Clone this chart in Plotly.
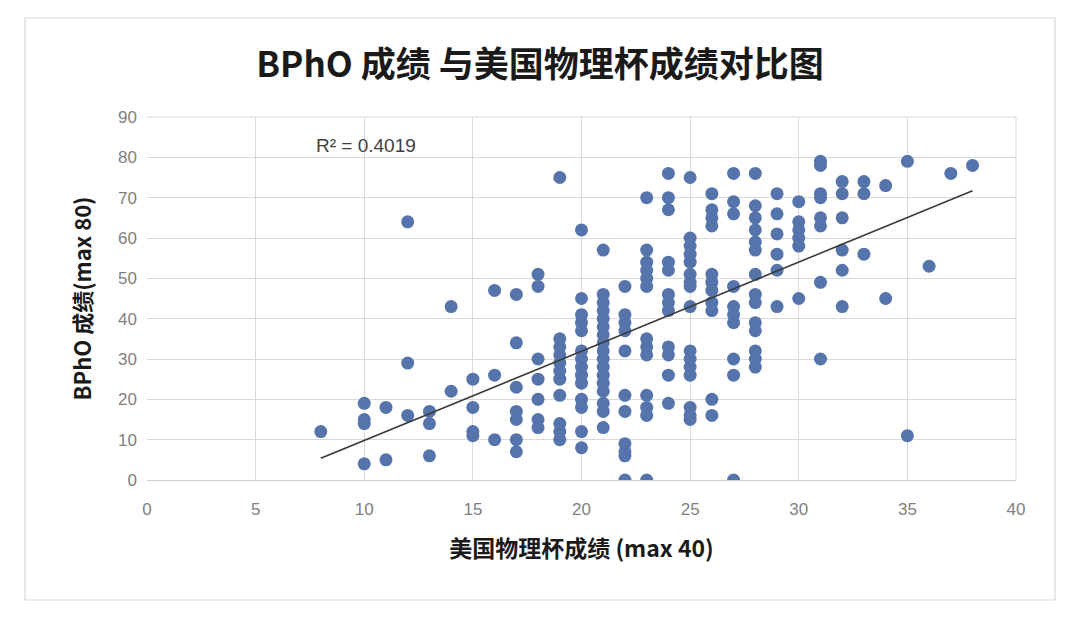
import numpy as np
import plotly.graph_objects as go

# 美国物理杯成绩 (x) and BPhO 成绩 (y), read column by column
pc_scores = (
    [8] * 1 + [10] * 4 + [11] * 2 + [12] * 3 + [13] * 3 + [14] * 2 + [15] * 4 + [16] * 3
    + [17] * 7 + [18] * 7 + [19] * 11 + [20] * 14 + [21] * 17 + [22] * 11 + [23] * 13
    + [24] * 12 + [25] * 16 + [26] * 11 + [27] * 10 + [28] * 14 + [29] * 6 + [30] * 6
    + [31] * 8 + [32] * 6 + [33] * 3 + [34] * 2 + [35] * 2 + [36] * 1 + [37] * 1 + [38] * 1
)
bpho_scores = (
    [12]
    + [19, 15, 14, 4]
    + [18, 5]
    + [64, 29, 16]
    + [17, 14, 6]
    + [43, 22]
    + [25, 18, 12, 11]
    + [47, 26, 10]
    + [46, 34, 23, 17, 15, 10, 7]
    + [51, 48, 30, 25, 20, 15, 13]
    + [75, 35, 33, 31, 29, 27, 25, 21, 14, 12, 10]
    + [62, 45, 41, 39, 37, 32, 30, 28, 26, 24, 20, 18, 12, 8]
    + [57, 46, 44, 42, 40, 38, 36, 34, 32, 30, 28, 26, 24, 22, 19, 17, 13]
    + [48, 41, 39, 37, 32, 21, 17, 9, 7, 6, 0]
    + [70, 57, 54, 52, 50, 48, 35, 33, 31, 21, 18, 16, 0]
    + [76, 70, 67, 54, 52, 46, 44, 42, 33, 31, 26, 19]
    + [75, 60, 58, 56, 54, 51, 49, 48, 43, 32, 30, 28, 26, 18, 16, 15]
    + [71, 67, 65, 63, 51, 49, 47, 44, 42, 20, 16]
    + [76, 69, 66, 48, 43, 41, 39, 30, 26, 0]
    + [76, 68, 65, 62, 59, 57, 51, 46, 44, 39, 37, 32, 30, 28]
    + [71, 66, 61, 56, 52, 43]
    + [69, 64, 62, 60, 58, 45]
    + [79, 78, 71, 70, 65, 63, 49, 30]
    + [74, 71, 65, 57, 52, 43]
    + [74, 71, 56]
    + [73, 45]
    + [79, 11]
    + [53]
    + [76]
    + [78]
)
x_ticks = [0, 5, 10, 15, 20, 25, 30, 35, 40]
y_ticks = [0, 10, 20, 30, 40, 50, 60, 70, 80, 90]
r2_label = "R² = 0.4019"

x = np.array(pc_scores, dtype=float)
y = np.array(bpho_scores, dtype=float)
slope, intercept = np.polyfit(x, y, 1)
x_line = np.array([x.min(), x.max()])
y_line = slope * x_line + intercept

fig = go.Figure()
fig.add_trace(go.Scatter(
    x=x, y=y, mode="markers",
    marker=dict(color="#5674ac", size=13, line=dict(width=0)),
    showlegend=False, hoverinfo="x+y",
))
fig.add_trace(go.Scatter(
    x=x_line, y=y_line, mode="lines",
    line=dict(color="#3a3a3a", width=1.6),
    showlegend=False, hoverinfo="skip",
))

cjk = "Noto Sans CJK SC"
tick_font = dict(family="Liberation Sans, Arial", size=17, color="#7f7f7f")

# page has an 8px body margin; figure sized to fit the 1080x623 window
W, H = 1072, 615
fig.update_layout(
    width=W, height=H,
    margin=dict(l=139, r=64, t=109, b=143),
    paper_bgcolor="white", plot_bgcolor="white",
    title=dict(
        text="<b>BPhO 成绩 与美国物理杯成绩对比图</b>",
        x=(540 - 8) / W, xref="container", xanchor="center",
        y=1 - (65 - 8) / H, yref="container", yanchor="middle",
        font=dict(family=cjk, size=35, color="#1a1a1a"),
    ),
    xaxis=dict(
        range=[0, 40], tickvals=x_ticks, showgrid=True, gridcolor="#d9d9d9", gridwidth=1,
        zeroline=False, showline=True, linecolor="#d0d0d0", mirror=False,
        tickfont=tick_font, ticks="", ticklabelstandoff=14,
        title=dict(text="<b>美国物理杯成绩 (max 40)</b>",
                   font=dict(family=cjk, size=23, color="#1a1a1a"), standoff=22),
    ),
    yaxis=dict(
        range=[0, 90], tickvals=y_ticks, showgrid=True, gridcolor="#d9d9d9", gridwidth=1,
        zeroline=False, showline=False, tickfont=tick_font, ticks="", ticklabelstandoff=9,
        title=dict(text="<b>BPhO 成绩(max 80)</b>",
                   font=dict(family=cjk, size=22, color="#1a1a1a"), standoff=20),
    ),
    shapes=[dict(
        type="rect", xref="paper", yref="paper",
        x0=(25 - 147) / 869, x1=(1055 - 147) / 869,
        y0=(480 - 600) / 363, y1=(480 - 18) / 363,
        line=dict(color="#d9d9d9", width=1.2), fillcolor="rgba(0,0,0,0)", layer="below",
    ), dict(
        type="line", xref="paper", yref="paper", x0=1, x1=1, y0=0, y1=1,
        line=dict(color="#d9d9d9", width=1),
    ), dict(
        type="line", xref="paper", yref="paper", x0=0, x1=1, y0=1, y1=1,
        line=dict(color="#d9d9d9", width=1),
    )],
    annotations=[dict(
        text=r2_label, x=7.7, y=83, xref="x", yref="y", xanchor="left", yanchor="middle",
        showarrow=False, font=dict(family="Liberation Sans, Arial", size=19, color="#404040"),
    )],
)

fig.write_html("out.html")
